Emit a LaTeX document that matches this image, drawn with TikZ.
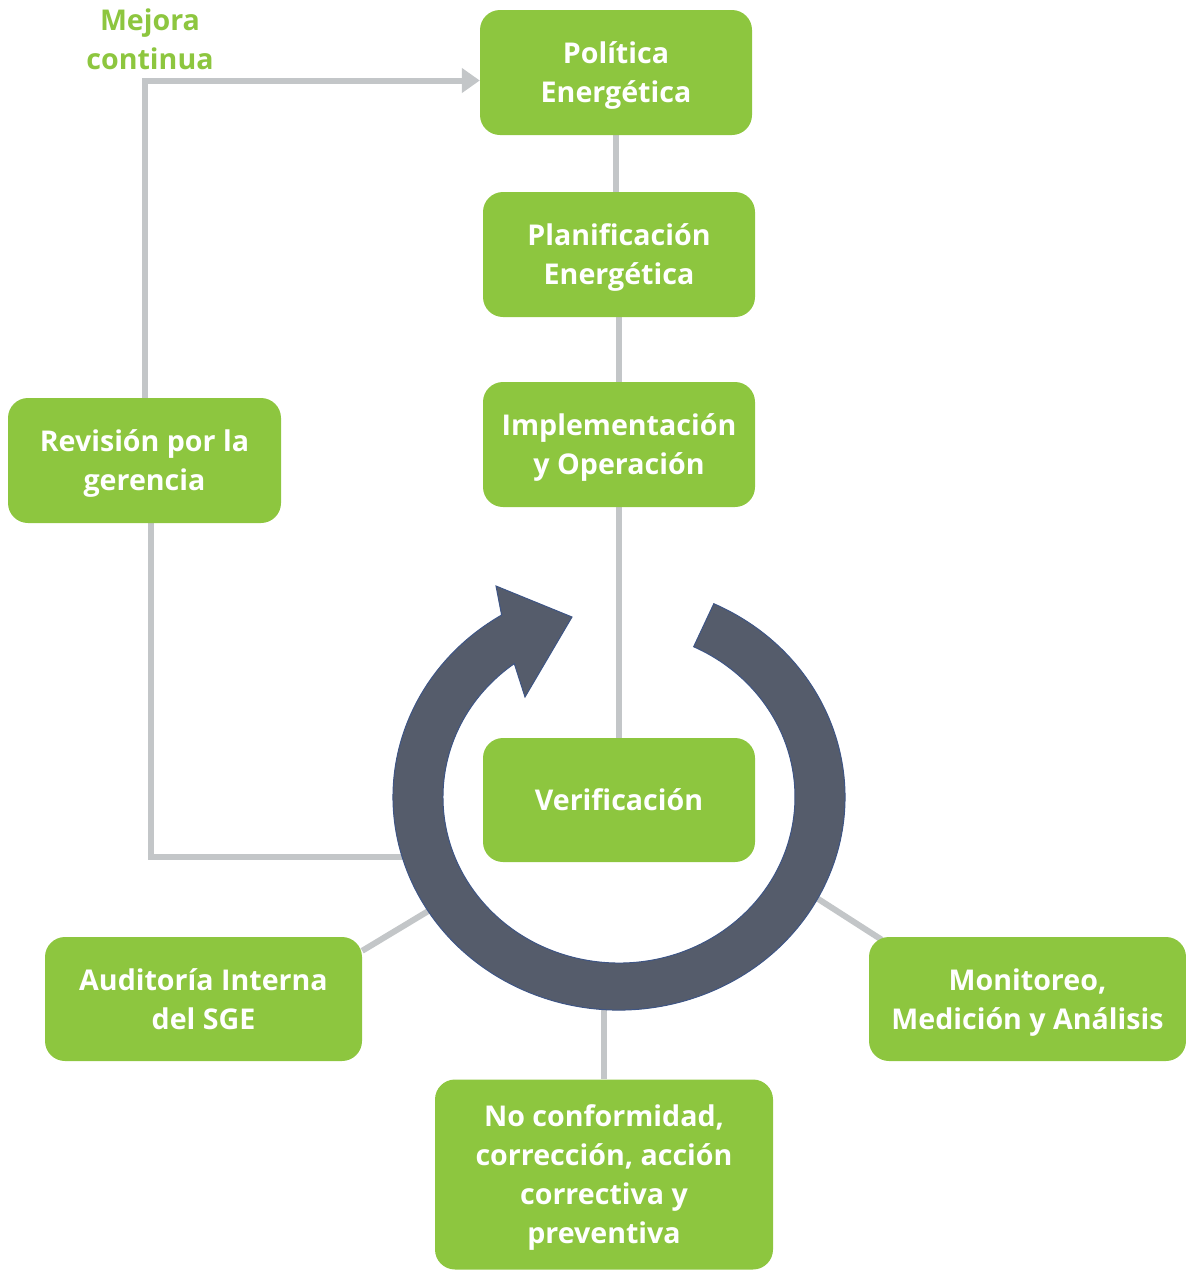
\documentclass[tikz,border=0pt]{standalone}
\usepackage{fontspec}
\setmainfont{Open Sans}
\usetikzlibrary{arrows.meta}
\definecolor{leaf}{HTML}{8DC63F}
\definecolor{wire}{HTML}{C3C6C8}
\definecolor{slate}{HTML}{555C6B}
\definecolor{slateedge}{HTML}{3E5585}
\pgfdeclarelayer{background}
\pgfsetlayers{background,main}
\begin{document}
\begin{tikzpicture}[x=1pt,y=-1pt,
  box/.style={rectangle, rounded corners=20pt, fill=leaf, text=white, align=center,
    inner sep=0pt, text depth=0pt, font=\fontsize{28.6}{39}\selectfont\bfseries},
  link/.style={draw=wire, line width=6pt},
  tag/.style={text=leaf, align=center, font=\fontsize{28.6}{39}\selectfont\bfseries}]
\useasboundingbox (0,0) rectangle (1186,1270);

% process boxes
\node[box, minimum width=272pt, minimum height=125pt] (pol)  at (616,72.5)    {Política\\Energética};
\node[box, minimum width=272pt, minimum height=125pt] (plan) at (619,254.5)   {Planificación\\Energética};
\node[box, minimum width=272pt, minimum height=125pt] (impl) at (619,444.5)   {Implementación\\y Operación};
\node[box, minimum width=272pt, minimum height=124pt] (ver)  at (619,800)     {Verificación};
\node[box, minimum width=273pt, minimum height=125pt] (rev)  at (144.5,460.5) {Revisión por la\\gerencia};
\node[box, minimum width=317pt, minimum height=124pt] (aud)  at (203.5,999)   {Auditoría Interna\\del SGE};
\node[box, minimum width=317pt, minimum height=124pt] (mon)  at (1027.5,999)  {Monitoreo,\\Medición y Análisis};
\node[box, minimum width=338pt, minimum height=190pt] (nc)   at (604,1174.5)  {No conformidad,\\corrección, acción\\correctiva y\\preventiva};
\node[tag] (mej) at (150,39) {Mejora\\continua};

% free ends of the connectors, hidden under the cycle arrow
\coordinate (ringW)  at (405,857);
\coordinate (ringSW) at (430,910);
\coordinate (ringSE) at (812,895);
\coordinate (ringS)  at (604,1000);

% connectors, kept beneath the boxes
\begin{pgfonlayer}{background}
  \draw[link] (pol.south) -- (pol.south |- plan.north);
  \draw[link] (plan.south) -- (impl.north);
  \draw[link] (impl.south) -- (ver.north);
  \draw[link, -{Triangle[length=18pt,width=24pt]}] (rev.north) |- ([yshift=-8pt]pol.west);
  \draw[link] ([xshift=6pt]rev.south) |- (ringW);
  \draw[link] (ringSW) -- ([yshift=-14pt]aud.north east);
  \draw[link] (ringSE) -- ([xshift=13pt,yshift=-3pt]mon.north west);
  \draw[link] (ringS) -- (nc.north);
\end{pgfonlayer}

% cycle arrow
\fill[slate, draw=slateedge, line width=1pt]
  (713.8,603.7) arc[start angle=-65.2, end angle=238.7, x radius=226, y radius=213]
  -- (496,586) -- (572,617) -- (525,697) -- (514.3,663.6)
  arc[start angle=233.5, end angle=-64.9, x radius=176, y radius=166] -- cycle;
\end{tikzpicture}
\end{document}
